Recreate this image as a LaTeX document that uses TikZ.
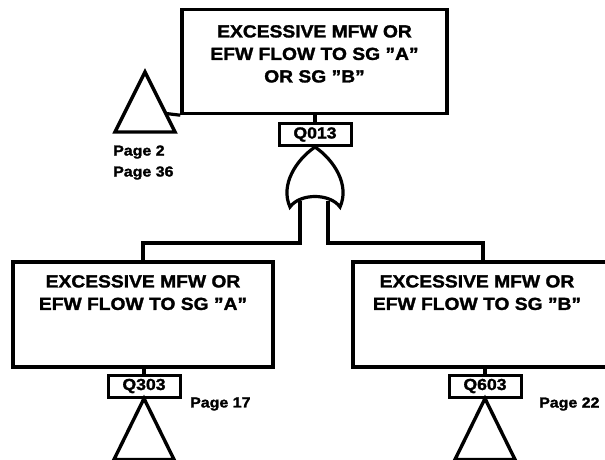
\documentclass[tikz,border=0pt]{standalone}
\usepackage{fontspec}
\setmainfont{Liberation Sans}[FakeStretch=1.1, BoldFeatures={FakeBold=1.6}]
\begin{document}
\begin{tikzpicture}[x=1pt,y=-1pt,
  evbox/.style={draw, line width=3.4pt, minimum width=#1, minimum height=104pt, inner sep=0pt},
  evtext/.style={anchor=north, inner sep=0pt, align=center, font=\bfseries\fontsize{17.5}{22.5}\selectfont},
  qbox/.style={draw, line width=3pt, minimum width=72pt, minimum height=22pt, inner sep=0pt, font=\bfseries\fontsize{16}{18}\selectfont},
  conn/.style={line width=3.2pt},
  tri/.style={line width=3.4pt, line join=miter},
  pagelab/.style={anchor=west, inner sep=0pt, align=left, font=\bfseries\fontsize{14.5}{21}\selectfont}]
\useasboundingbox (0,0) rectangle (605,460);
% top event
\node[evbox=265pt] (top) at (314.5,61.5) {};
\node[evtext] (toptxt) at (314.5,25) {EXCESSIVE MFW OR\\EFW FLOW TO SG "A"\\OR SG "B"};
% transfer triangle (top left)
\coordinate (tA) at (145,72);
\draw[tri] (tA) -- ++(-30,60) -- ++(60,0) -- cycle;
\coordinate (tAc) at (166,113.5);
\draw[conn] (top.south west) -- (tAc);
\node[pagelab] (p2) at (113,152) {Page 2};
\node[pagelab] (p36) at (113,173) {Page 36};
% gate label
\node[qbox] (q013) at (315,134.5) {Q013};
\draw[conn] (top.south -| q013.north) -- (q013.north);
% OR gate
\coordinate (gA) at (q013.south);
\coordinate (gBL) at (290,207);
\coordinate (gBR) at (340,207);
\draw[line width=3.2pt, line join=miter]
  (gA) .. controls (296,160) and (280,185) .. (gBL)
  .. controls (300,193) and (330,193) .. (gBR)
  .. controls (350,185) and (334,160) .. (gA) -- cycle;
% leads
\coordinate (gL) at (300,200.5);
\coordinate (gR) at (328,200.5);
\coordinate (jL) at (300,243);
\coordinate (jR) at (328,243);
% left event
\node[evbox=260pt, minimum height=105pt] (lbox) at (143,314.5) {};
\node[evtext] (ltxt) at (143,275) {EXCESSIVE MFW OR\\EFW FLOW TO SG "A"};
% right event
\node[evbox=260pt, minimum height=105pt] (rbox) at (483,314.5) {};
\node[evtext] (rtxt) at (477,275) {EXCESSIVE MFW OR\\EFW FLOW TO SG "B"};
\draw[conn] (gL) -- (jL) -| (lbox.north);
\draw[conn] (gR) -- (jR) -| (rbox.north);
% Q303
\node[qbox] (q303) at (144,386) {Q303};
\draw[conn] (lbox.south -| q303.north) -- (q303.north);
\draw[tri] (q303.south) -- ++(-30,61) -- ++(60,0) -- cycle;
\node[pagelab] (p17) at (190,404) {Page 17};
% Q603
\node[qbox] (q603) at (485,386) {Q603};
\draw[conn] (rbox.south -| q603.north) -- (q603.north);
\draw[tri] (q603.south) -- ++(-30,61) -- ++(60,0) -- cycle;
\node[pagelab] (p22) at (539,404) {Page 22};
\end{tikzpicture}
\end{document}
